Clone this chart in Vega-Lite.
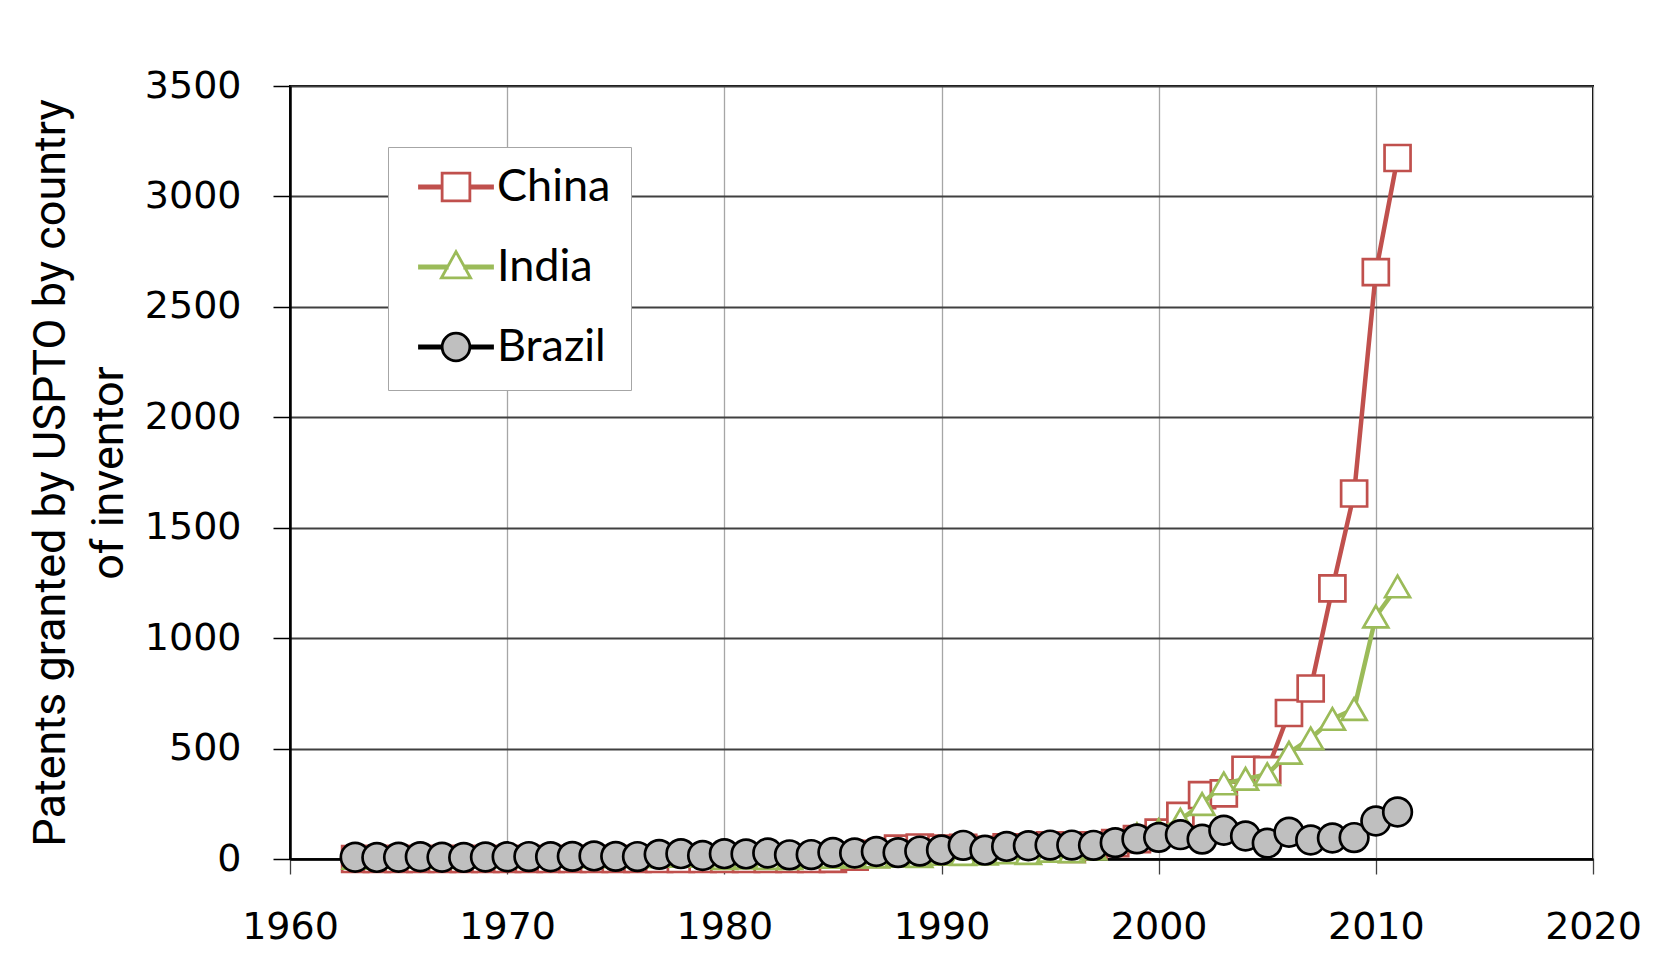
{
  "$schema": "https://vega.github.io/schema/vega-lite/v6.json",
  "width": 1303,
  "height": 773,
  "autosize": {"type": "none"},
  "padding": {"left": 290, "top": 86, "right": 85, "bottom": 114},
  "background": "white",
  "config": {
    "view": {"stroke": "#000000", "strokeWidth": 2},
    "axis": {"labelFont": "DejaVu Sans", "labelFontSize": 38, "labelColor": "#000000", "labelFlush": false, "labelOverlap": false}
  },
  "datasets": {
    "patents": [
      {"year":1963,"series":"China","v":0},{"year":1964,"series":"China","v":0},{"year":1965,"series":"China","v":0},{"year":1966,"series":"China","v":0},{"year":1967,"series":"China","v":0},{"year":1968,"series":"China","v":0},{"year":1969,"series":"China","v":0},{"year":1970,"series":"China","v":0},{"year":1971,"series":"China","v":0},{"year":1972,"series":"China","v":0},{"year":1973,"series":"China","v":0},{"year":1974,"series":"China","v":0},{"year":1975,"series":"China","v":0},{"year":1976,"series":"China","v":0},{"year":1977,"series":"China","v":0},{"year":1978,"series":"China","v":0},{"year":1979,"series":"China","v":0},{"year":1980,"series":"China","v":0},{"year":1981,"series":"China","v":0},{"year":1982,"series":"China","v":0},{"year":1983,"series":"China","v":0},{"year":1984,"series":"China","v":0},{"year":1985,"series":"China","v":1},{"year":1986,"series":"China","v":11},{"year":1987,"series":"China","v":23},{"year":1988,"series":"China","v":47},{"year":1989,"series":"China","v":52},{"year":1990,"series":"China","v":47},{"year":1991,"series":"China","v":50},{"year":1992,"series":"China","v":41},{"year":1993,"series":"China","v":53},{"year":1994,"series":"China","v":48},{"year":1995,"series":"China","v":62},{"year":1996,"series":"China","v":46},{"year":1997,"series":"China","v":62},{"year":1998,"series":"China","v":72},{"year":1999,"series":"China","v":90},{"year":2000,"series":"China","v":119},{"year":2001,"series":"China","v":195},{"year":2002,"series":"China","v":289},{"year":2003,"series":"China","v":297},{"year":2004,"series":"China","v":404},{"year":2005,"series":"China","v":402},{"year":2006,"series":"China","v":661},{"year":2007,"series":"China","v":772},{"year":2008,"series":"China","v":1225},{"year":2009,"series":"China","v":1655},{"year":2010,"series":"China","v":2657},{"year":2011,"series":"China","v":3174},
      {"year":1963,"series":"India","v":5},{"year":1964,"series":"India","v":8},{"year":1965,"series":"India","v":10},{"year":1966,"series":"India","v":12},{"year":1967,"series":"India","v":8},{"year":1968,"series":"India","v":10},{"year":1969,"series":"India","v":12},{"year":1970,"series":"India","v":12},{"year":1971,"series":"India","v":15},{"year":1972,"series":"India","v":14},{"year":1973,"series":"India","v":13},{"year":1974,"series":"India","v":12},{"year":1975,"series":"India","v":14},{"year":1976,"series":"India","v":12},{"year":1977,"series":"India","v":14},{"year":1978,"series":"India","v":14},{"year":1979,"series":"India","v":14},{"year":1980,"series":"India","v":4},{"year":1981,"series":"India","v":6},{"year":1982,"series":"India","v":4},{"year":1983,"series":"India","v":4},{"year":1984,"series":"India","v":12},{"year":1985,"series":"India","v":10},{"year":1986,"series":"India","v":11},{"year":1987,"series":"India","v":11},{"year":1988,"series":"India","v":14},{"year":1989,"series":"India","v":13},{"year":1990,"series":"India","v":23},{"year":1991,"series":"India","v":22},{"year":1992,"series":"India","v":24},{"year":1993,"series":"India","v":30},{"year":1994,"series":"India","v":27},{"year":1995,"series":"India","v":37},{"year":1996,"series":"India","v":35},{"year":1997,"series":"India","v":47},{"year":1998,"series":"India","v":85},{"year":1999,"series":"India","v":112},{"year":2000,"series":"India","v":131},{"year":2001,"series":"India","v":178},{"year":2002,"series":"India","v":249},{"year":2003,"series":"India","v":342},{"year":2004,"series":"India","v":363},{"year":2005,"series":"India","v":384},{"year":2006,"series":"India","v":481},{"year":2007,"series":"India","v":546},{"year":2008,"series":"India","v":634},{"year":2009,"series":"India","v":679},{"year":2010,"series":"India","v":1098},{"year":2011,"series":"India","v":1234},
      {"year":1963,"series":"Brazil","v":8},{"year":1964,"series":"Brazil","v":7},{"year":1965,"series":"Brazil","v":8},{"year":1966,"series":"Brazil","v":10},{"year":1967,"series":"Brazil","v":8},{"year":1968,"series":"Brazil","v":7},{"year":1969,"series":"Brazil","v":9},{"year":1970,"series":"Brazil","v":10},{"year":1971,"series":"Brazil","v":11},{"year":1972,"series":"Brazil","v":10},{"year":1973,"series":"Brazil","v":12},{"year":1974,"series":"Brazil","v":14},{"year":1975,"series":"Brazil","v":12},{"year":1976,"series":"Brazil","v":11},{"year":1977,"series":"Brazil","v":21},{"year":1978,"series":"Brazil","v":24},{"year":1979,"series":"Brazil","v":16},{"year":1980,"series":"Brazil","v":24},{"year":1981,"series":"Brazil","v":23},{"year":1982,"series":"Brazil","v":27},{"year":1983,"series":"Brazil","v":19},{"year":1984,"series":"Brazil","v":20},{"year":1985,"series":"Brazil","v":30},{"year":1986,"series":"Brazil","v":27},{"year":1987,"series":"Brazil","v":34},{"year":1988,"series":"Brazil","v":29},{"year":1989,"series":"Brazil","v":36},{"year":1990,"series":"Brazil","v":41},{"year":1991,"series":"Brazil","v":62},{"year":1992,"series":"Brazil","v":40},{"year":1993,"series":"Brazil","v":57},{"year":1994,"series":"Brazil","v":60},{"year":1995,"series":"Brazil","v":63},{"year":1996,"series":"Brazil","v":63},{"year":1997,"series":"Brazil","v":62},{"year":1998,"series":"Brazil","v":74},{"year":1999,"series":"Brazil","v":91},{"year":2000,"series":"Brazil","v":98},{"year":2001,"series":"Brazil","v":110},{"year":2002,"series":"Brazil","v":90},{"year":2003,"series":"Brazil","v":130},{"year":2004,"series":"Brazil","v":104},{"year":2005,"series":"Brazil","v":72},{"year":2006,"series":"Brazil","v":121},{"year":2007,"series":"Brazil","v":86},{"year":2008,"series":"Brazil","v":95},{"year":2009,"series":"Brazil","v":97},{"year":2010,"series":"Brazil","v":172},{"year":2011,"series":"Brazil","v":213}
    ]
  },
  "data": {"name": "patents"},
  "encoding": {
    "x": {
      "field": "year", "type": "quantitative",
      "scale": {"domain": [1960, 2020], "nice": false, "zero": false},
      "axis": {"values": [1960, 1970, 1980, 1990, 2000, 2010, 2020], "format": "d", "title": null, "grid": true, "gridColor": "#A6A6A6", "gridWidth": 1.3, "domainColor": "#000000", "domainWidth": 2.5, "tickColor": "#404040", "tickSize": 15, "tickWidth": 1.3, "labelPadding": 34}
    },
    "y": {
      "field": "v", "type": "quantitative",
      "scale": {"domain": [0, 3500], "nice": false},
      "axis": {"values": [0, 500, 1000, 1500, 2000, 2500, 3000, 3500], "format": "d", "grid": true, "gridColor": "#404040", "gridWidth": 1.8, "domainColor": "#000000", "domainWidth": 2.5, "tickColor": "#000000", "tickSize": 17, "tickWidth": 1.5, "labelPadding": 32,
        "title": ["Patents granted by USPTO by country", "of inventor"], "titleFont": "Roboto", "titleFontSize": 45, "titleFontWeight": "normal", "titleColor": "#000000", "titleLineHeight": 58, "titlePadding": 13}
    }
  },
  "layer": [
    {
      "transform": [{"filter": "datum.series === 'China'"}],
      "mark": {"type": "line", "strokeWidth": 4.5},
      "encoding": {"color": {"field": "series", "type": "nominal", "scale": {"domain": ["China", "India", "Brazil"], "range": ["#C0504D", "#9BBB59", "#000000"]},
        "legend": {"title": null, "orient": "none", "legendX": 98, "legendY": 61, "padding": 20, "strokeColor": "#A6A6A6", "fillColor": "#ffffff", "labelFont": "Lato", "labelFontSize": 45, "labelColor": "#000000", "labelLimit": 400, "symbolSize": 5329, "symbolStrokeWidth": 3, "symbolOffset": 10, "clipHeight": 40, "rowPadding": 35, "labelOffset": 3,
          "encode": {"symbols": {"update": {
            "shape": {"signal": "datum.value === 'China' ? 'M-1,-0.03H-0.38V0.03H-1ZM0.38,-0.03H1V0.03H0.38ZM-0.38,-0.38H0.38V0.38H-0.38Z' : datum.value === 'India' ? 'M-1,-0.03H-0.24V0.03H-1ZM0.24,-0.03H1V0.03H0.24ZM0,-0.42L0.4,0.3L-0.4,0.3Z' : 'M-1,-0.03H-0.38V0.03H-1ZM0.38,-0.03H1V0.03H0.38ZM-0.38,0A0.38,0.38 0 1,1 0.38,0A0.38,0.38 0 1,1 -0.38,0Z'"},
            "fill": {"signal": "datum.value === 'Brazil' ? '#BFBFBF' : '#ffffff'"},
            "fillOpacity": {"value": 1},
            "strokeWidth": {"value": 2.8},
            "opacity": {"value": 1}
          }}}}}}
    },
    {
      "transform": [{"filter": "datum.series === 'China'"}],
      "mark": {"type": "point", "shape": "square", "size": 676, "filled": true, "fill": "#ffffff", "stroke": "#C0504D", "strokeWidth": 2.7, "opacity": 1}
    },
    {
      "transform": [{"filter": "datum.series === 'India'"}],
      "mark": {"type": "line", "strokeWidth": 4.5},
      "encoding": {"color": {"field": "series", "type": "nominal", "scale": {"domain": ["China", "India", "Brazil"], "range": ["#C0504D", "#9BBB59", "#000000"]}}}
    },
    {
      "transform": [{"filter": "datum.series === 'India'"}],
      "mark": {"type": "point", "shape": "triangle-up", "size": 620, "filled": true, "fill": "#ffffff", "stroke": "#9BBB59", "strokeWidth": 2.7, "opacity": 1}
    },
    {
      "transform": [{"filter": "datum.series === 'Brazil'"}],
      "mark": {"type": "line", "strokeWidth": 3.5},
      "encoding": {"color": {"field": "series", "type": "nominal", "scale": {"domain": ["China", "India", "Brazil"], "range": ["#C0504D", "#9BBB59", "#000000"]}}}
    },
    {
      "transform": [{"filter": "datum.series === 'Brazil'"}],
      "mark": {"type": "point", "shape": "circle", "size": 820, "filled": true, "fill": "#BFBFBF", "stroke": "#000000", "strokeWidth": 2.7, "opacity": 1}
    }
  ]
}
